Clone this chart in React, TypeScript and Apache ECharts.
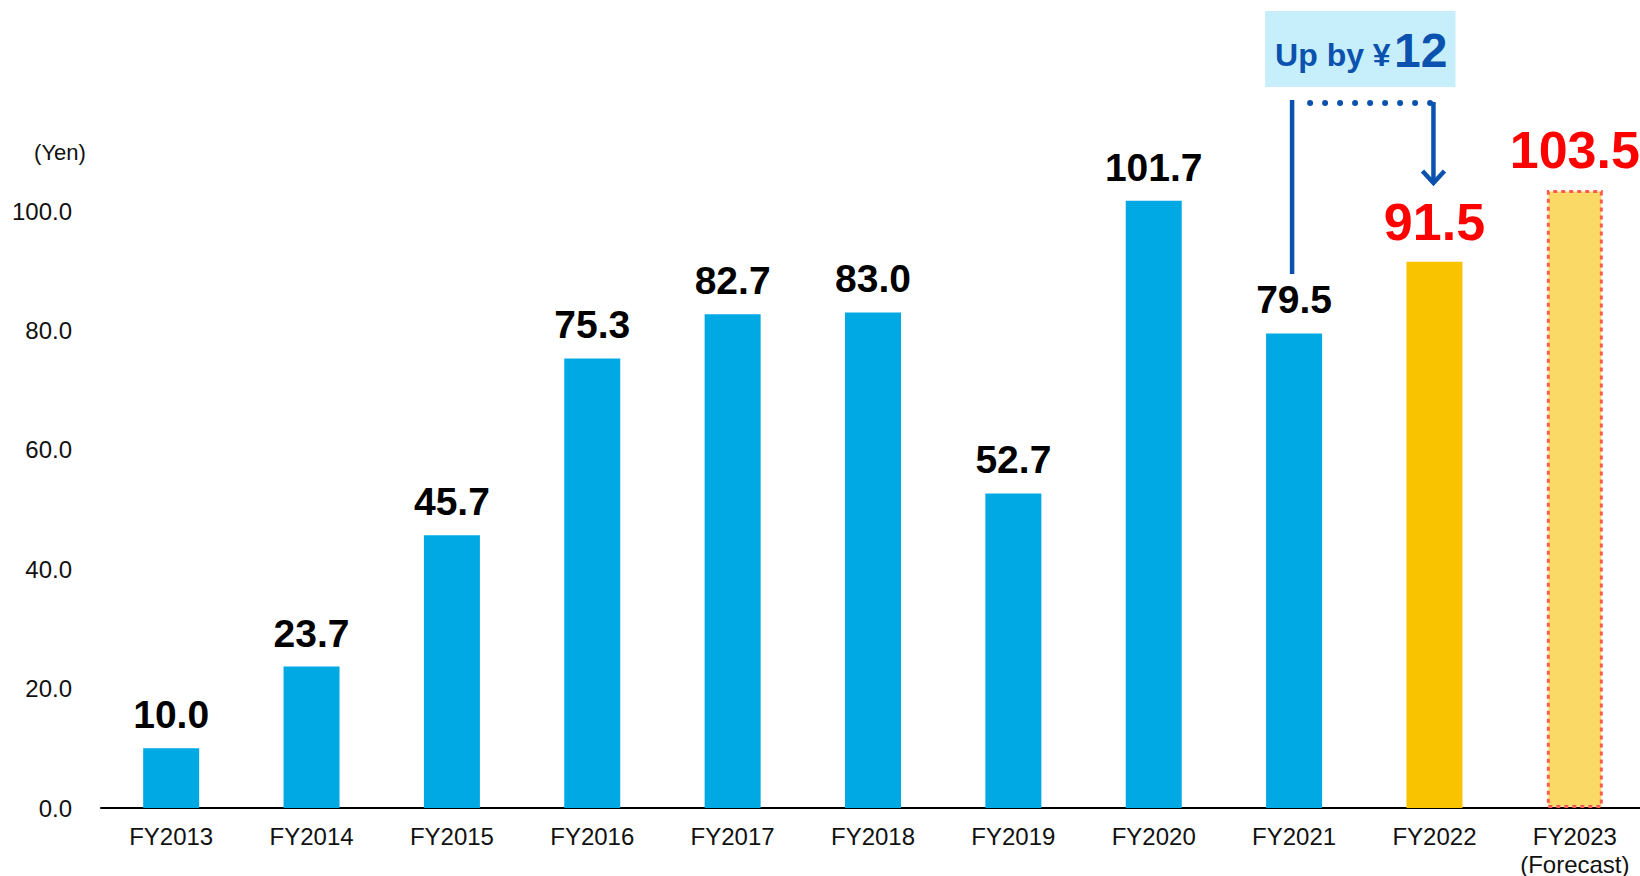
import React, { useEffect, useRef } from "react";
import * as echarts from "echarts";

const categories = [
  "FY2013",
  "FY2014",
  "FY2015",
  "FY2016",
  "FY2017",
  "FY2018",
  "FY2019",
  "FY2020",
  "FY2021",
  "FY2022",
  "FY2023\n(Forecast)",
];
const values = [10.0, 23.7, 45.7, 75.3, 82.7, 83.0, 52.7, 101.7, 79.5, 91.5, 103.5];
const yMin = 0;
const yMax = 100;
const yInterval = 20;
const unitLabel = "(Yen)";
const increaseText = "Up by ¥";
const increaseAmount = "12";
const fromCategory = "FY2021";
const toCategory = "FY2022";

const FONT = "'Liberation Sans', Arial, sans-serif";
const BLUE = "#00A9E4";
const ORANGE = "#F9C300";
const FORECAST_FILL = "#FBD966";
const DARK_BLUE = "#0B52AF";

export default function App() {
  const ref = useRef<HTMLDivElement>(null);

  useEffect(() => {
    if (!ref.current) return;
    const chart = echarts.init(ref.current, undefined, { renderer: "svg" });

    const data = values.map((v, i) => {
      if (i === values.length - 1) {
        return {
          value: v,
          itemStyle: {
            color: FORECAST_FILL,
            borderColor: "#FF5A4E",
            borderWidth: 3,
            borderType: [4, 4],
          },
          label: { color: "#FF0000", fontSize: 52 },
        };
      }
      if (i === values.length - 2) {
        return {
          value: v,
          itemStyle: { color: ORANGE },
          label: { color: "#FF0000", fontSize: 52 },
        };
      }
      return { value: v };
    });

    chart.setOption({
      animation: false,
      grid: {
        left: 101,
        top: 211,
        width: 1544,
        height: 597,
        outerBoundsMode: "none",
        containLabel: false,
      },
      xAxis: {
        type: "category",
        data: categories,
        axisLine: { lineStyle: { color: "#000", width: 2 } },
        axisTick: { show: false },
        axisLabel: {
          color: "#111",
          fontSize: 24,
          fontFamily: FONT,
          margin: 14,
          lineHeight: 28,
          interval: 0,
        },
      },
      yAxis: {
        type: "value",
        min: yMin,
        max: yMax,
        interval: yInterval,
        axisLine: { show: false },
        axisTick: { show: false },
        splitLine: { show: false },
        axisLabel: {
          color: "#111",
          fontSize: 24,
          fontFamily: FONT,
          margin: 29,
          formatter: (v: number) => v.toFixed(1),
        },
      },
      series: [
        {
          type: "bar",
          data,
          barWidth: 56,
          clip: false,
          itemStyle: { color: BLUE },
          label: {
            show: true,
            position: "top",
            distance: 14,
            color: "#000",
            fontSize: 39,
            fontWeight: "bold",
            fontFamily: FONT,
            formatter: (p: any) => Number(p.value).toFixed(1),
          },
        },
      ],
    });

    const xFrom = chart.convertToPixel({ xAxisIndex: 0 }, fromCategory) as number;
    const xTo = chart.convertToPixel({ xAxisIndex: 0 }, toCategory) as number;
    const yTopLine = 102;
    const boxLeft = xFrom - 29;
    const boxRight = xTo + 21;

    chart.setOption({
      graphic: [
        {
          type: "text",
          x: 60,
          y: 152,
          style: {
            text: unitLabel,
            fill: "#111",
            fontSize: 22,
            fontFamily: FONT,
            align: "center",
            verticalAlign: "middle",
          },
        },
        {
          type: "rect",
          shape: { x: boxLeft, y: 11, width: boxRight - boxLeft, height: 76 },
          style: { fill: "#C6EEFB" },
        },
        {
          type: "text",
          x: boxLeft + 10,
          y: 55,
          style: {
            text: increaseText,
            fill: DARK_BLUE,
            fontSize: 32,
            fontWeight: "bold",
            fontFamily: FONT,
            align: "left",
            verticalAlign: "middle",
          },
        },
        {
          type: "text",
          x: boxLeft + 129,
          y: 50,
          style: {
            text: increaseAmount,
            fill: DARK_BLUE,
            fontSize: 48,
            fontWeight: "bold",
            fontFamily: FONT,
            align: "left",
            verticalAlign: "middle",
          },
        },
        {
          type: "line",
          shape: { x1: xFrom - 2, y1: 100, x2: xFrom - 2, y2: 274 },
          style: { stroke: DARK_BLUE, lineWidth: 4.5 },
        },
        {
          type: "line",
          shape: { x1: xFrom + 16, y1: yTopLine + 1, x2: xTo - 4, y2: yTopLine + 1 },
          style: {
            stroke: DARK_BLUE,
            lineWidth: 6,
            lineCap: "round",
            lineDash: [0, 15],
          },
        },
        {
          type: "line",
          shape: { x1: xTo - 1, y1: yTopLine, x2: xTo - 1, y2: 182 },
          style: { stroke: DARK_BLUE, lineWidth: 4.5 },
        },
        {
          type: "polyline",
          shape: {
            points: [
              [xTo - 12, 171],
              [xTo - 1, 183],
              [xTo + 10, 171],
            ],
          },
          style: { stroke: DARK_BLUE, lineWidth: 4.5, fill: "none" },
        },
      ],
    });

    return () => chart.dispose();
  }, []);

  return (
    <div
      ref={ref}
      style={{ position: "fixed", left: 0, top: 0, width: 1640, height: 876, background: "#fff" }}
    />
  );
}
